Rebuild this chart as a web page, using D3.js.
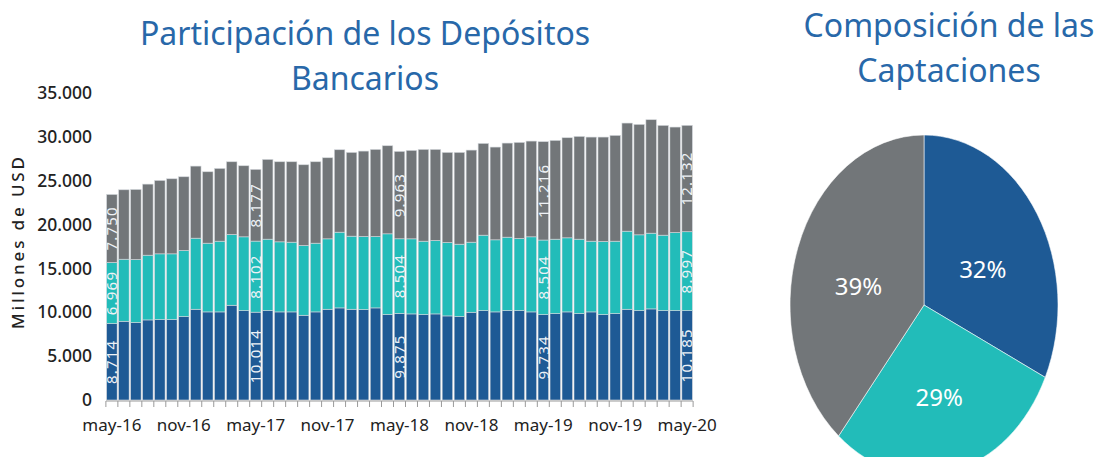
<!DOCTYPE html>
<html>
<head>
<meta charset="utf-8">
<script src="https://cdn.jsdelivr.net/npm/d3@7/dist/d3.min.js"></script>
<style>
  body { margin: 0; background: #fff; }
  svg { display: block; font-family: "Noto Sans", sans-serif; }
</style>
</head>
<body>
<svg id="chart" width="1099" height="457"></svg>
<script>
// months may-16 .. may-20
const meses = ["may","jun","jul","ago","sep","oct","nov","dic","ene","feb","mar","abr"];
const periodos = d3.range(49).map(i => meses[i % 12] + "-" + (16 + Math.floor((i + 4) / 12)));

// Millones de USD, bottom to top
const serieAzul = [8714,8977,8825,9130,9168,9168,9510,10347,10043,10043,10803,10195,10014,10195,10043,10043,9662,10043,10347,10499,10347,10309,10499,9738,9875,9814,9738,9814,9586,9510,10005,10195,10043,10195,10195,10043,9734,9852,10043,9852,10043,9738,9852,10347,10195,10385,10195,10195,10185];
const serieTurquesa = [6969,7075,7190,7380,7494,7494,7532,8103,7836,8064,8064,8407,8102,8141,7988,7950,7950,7836,8026,8635,8331,8331,8141,9206,8504,8559,8369,8369,8369,8255,7988,8597,8217,8369,8217,8559,8504,8483,8445,8483,8064,8331,8255,8901,8635,8635,8597,8901,8997];
const serieGris = [7750,7912,7988,8103,8369,8559,8407,8217,8141,8293,8293,8103,8177,9092,9130,9168,9206,9282,9244,9396,9548,9738,9928,10043,9963,10081,10461,10385,10271,10461,10499,10461,10575,10727,10956,10917,11216,11260,11412,11716,11868,11907,12059,12325,12591,12934,12515,12021,12132];

const etiquetasIdx = [0, 12, 24, 36, 48];
const ticksX = ["may-16","nov-16","may-17","nov-17","may-18","nov-18","may-19","nov-19","may-20"];
const ticksY = [0,5000,10000,15000,20000,25000,30000,35000];

const pieNombres = ["azul","turquesa","gris"];
const pieValores = [32, 29, 39];

const colores = { azul: "#1e5a95", turquesa: "#22bcb9", gris: "#727679" };
const tituloColor = "#2868a9";

const svg = d3.select("#chart");
const es = d3.formatLocale({ decimal: ",", thousands: ".", grouping: [3], currency: ["", ""] });
const fmt = es.format(",");

// ---- stacked bars
const rows = periodos.map((p, i) => ({ periodo: p, azul: serieAzul[i], turquesa: serieTurquesa[i], gris: serieGris[i] }));
const stack = d3.stack().keys(["azul","turquesa","gris"])(rows);

const x = d3.scaleBand().domain(periodos).range([106, 693]).paddingInner(0.12).paddingOuter(0.05);
const y = d3.scaleLinear().domain([0, 35000]).range([400, 93]);

svg.append("g").selectAll("g")
  .data(stack)
  .enter().append("g")
    .attr("fill", d => colores[d.key])
  .selectAll("rect")
  .data(d => d)
  .enter().append("rect")
    .attr("x", d => x(d.data.periodo))
    .attr("y", d => y(d[1]))
    .attr("width", x.bandwidth())
    .attr("height", d => y(d[0]) - y(d[1]))
    .attr("stroke", "#d4d8dc")
    .attr("stroke-width", 0.6);

// value labels
const lbl = svg.append("g")
    .attr("fill", "#eef2f6")
    .attr("font-size", 15)
    .attr("letter-spacing", "1.2px")
    .attr("text-anchor", "middle");
stack.forEach(s => {
  etiquetasIdx.forEach(i => {
    const d = s[i];
    const cx = x(d.data.periodo) + x.bandwidth() / 2;
    const cy = (y(d[0]) + y(d[1])) / 2;
    lbl.append("text")
      .attr("transform", "translate(" + cx + "," + cy + ") rotate(-90)")
      .attr("dy", "0.35em")
      .text(fmt(d.data[s.key]));
  });
});

// x axis: a tick at every band edge, labels every 6 months
const xAxisG = svg.append("g").attr("stroke", "#9a9a9a");
xAxisG.append("line")
  .attr("x1", x.range()[0]).attr("x2", x.range()[1])
  .attr("y1", 401).attr("y2", 401);
const step = x.step();
const edges = periodos.map(p => x(p) - x.paddingInner() * step / 2).concat([x(periodos[48]) + x.bandwidth() + x.paddingInner() * step / 2]);
xAxisG.selectAll(".tk").data(edges).enter().append("line")
  .attr("x1", d => d).attr("x2", d => d)
  .attr("y1", 401).attr("y2", 407);

svg.append("g")
    .attr("font-size", 17)
    .attr("fill", "#222")
    .attr("text-anchor", "middle")
  .selectAll("text")
  .data(ticksX)
  .enter().append("text")
    .attr("x", d => x(d) + x.bandwidth() / 2)
    .attr("y", 431)
    .text(d => d);

// y axis labels
svg.append("g")
    .attr("font-size", 17.5)
    .attr("font-weight", 500)
    .attr("fill", "#222")
    .attr("text-anchor", "end")
  .selectAll("text")
  .data(ticksY)
  .enter().append("text")
    .attr("x", 92)
    .attr("y", d => y(d))
    .attr("dy", "0.35em")
    .text(d => fmt(d));

svg.append("text")
    .attr("transform", "translate(24,243) rotate(-90)")
    .attr("text-anchor", "middle")
    .attr("font-size", 17)
    .attr("font-weight", 500)
    .attr("fill", "#222")
    .attr("textLength", 172)
    .attr("lengthAdjust", "spacing")
    .text("Millones de USD");

// titles
const titulo = (lines, cx, y0) => {
  svg.append("g")
      .attr("fill", tituloColor)
      .attr("font-size", 32)
      .attr("text-anchor", "middle")
    .selectAll("text")
    .data(lines)
    .enter().append("text")
      .attr("x", cx)
      .attr("y", (d, i) => y0 + i * 45)
      .text(d => d);
};
titulo(["Participación de los Depósitos", "Bancarios"], 365, 45);
titulo(["Composición de las", "Captaciones"], 949, 37);

// ---- pie (elliptical)
const rx = 134, ry = 170, pcx = 924, pcy = 305;
const pie = d3.pie().sort(null).value(d => d)(pieValores);
const arc = d3.arc().innerRadius(0).outerRadius(rx);

svg.append("g")
    .attr("transform", "translate(" + pcx + "," + pcy + ") scale(1," + (ry / rx) + ")")
  .selectAll("path")
  .data(pie)
  .enter().append("path")
    .attr("d", arc)
    .attr("fill", (d, i) => colores[pieNombres[i]])
    .attr("stroke", "#fff")
    .attr("stroke-width", 0.5);

const labelArc = d3.arc().innerRadius(rx).outerRadius(rx);
svg.append("g")
    .attr("fill", "#fff")
    .attr("font-size", 24)
    .attr("text-anchor", "middle")
  .selectAll("text")
  .data(pie)
  .enter().append("text")
    .attr("x", d => pcx + labelArc.centroid(d)[0] * 0.52)
    .attr("y", d => pcy + 10 + labelArc.centroid(d)[1] * 0.5 * (ry / rx))
    .attr("dy", "0.35em")
    .text(d => d.data + "%");
</script>
</body>
</html>
